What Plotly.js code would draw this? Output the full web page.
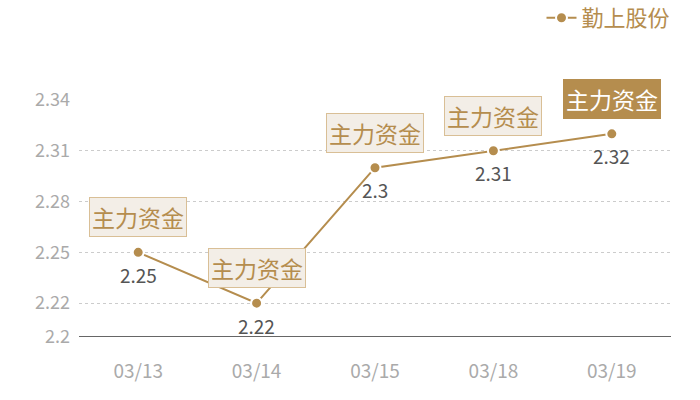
<!DOCTYPE html>
<html><head><meta charset="utf-8">
<script src="https://cdn.plot.ly/plotly-3.0.1.min.js"></script>
<style>body{margin:0;background:#fff}#c{width:700px;height:400px}</style>
</head><body><div id="c"></div>
<script>
const dates = ['03/13','03/14','03/15','03/18','03/19'];
const prices = [2.25, 2.22, 2.3, 2.31, 2.32];
const seriesName = '勤上股份';
const tagText = '主力资金';
const yTicks = [2.2, 2.22, 2.25, 2.28, 2.31, 2.34];
const yTickLabels = ['2.2', '2.22', '2.25', '2.28', '2.31', '2.34'];

const gold = '#b58d4e';
const font = '"Noto Sans CJK SC", "Noto Sans", sans-serif';

const tags = dates.map((d, i) => {
  const last = i === dates.length - 1;
  return {
    x: d, y: prices[i], xref: 'x', yref: 'y',
    text: tagText, showarrow: false, yshift: 35,
    font: {family: font, size: 23, color: last ? '#ffffff' : gold},
    bgcolor: last ? gold : '#f3eee7',
    bordercolor: last ? gold : '#d9bf96', borderwidth: 1, borderpad: 2
  };
});
const valueLabels = dates.map((d, i) => ({
  x: d, y: prices[i], xref: 'x', yref: 'y',
  text: String(prices[i]), showarrow: false, yshift: -22,
  font: {family: font, size: 19, color: '#555555'}
}));

Plotly.newPlot('c', [{
  x: dates, y: prices, name: seriesName, type: 'scatter',
  mode: 'lines+markers',
  line: {color: gold, width: 2},
  marker: {color: gold, size: 11, line: {color: '#ffffff', width: 2}},
  showlegend: true
}], {
  width: 700, height: 400,
  margin: {l: 79, r: 29, t: 100, b: 63},
  paper_bgcolor: '#ffffff', plot_bgcolor: '#ffffff',
  font: {family: font},
  showlegend: true,
  legend: {xref: 'container', yref: 'container', x: 0.965, xanchor: 'right', y: 0.955, yanchor: 'middle',
           orientation: 'h', font: {family: font, size: 22, color: gold}, bgcolor: 'rgba(0,0,0,0)'},
  xaxis: {type: 'category', range: [-0.5, 4.5], showgrid: false, zeroline: false,
          showline: false, ticks: '', ticklen: 0, ticklabelstandoff: 21,
          tickfont: {family: font, size: 19, color: '#aaaaaa'}},
  yaxis: {range: [2.2, 2.34], tickmode: 'array', tickvals: yTicks, ticktext: yTickLabels,
          showgrid: true, gridcolor: '#cccccc', griddash: 'dot', gridwidth: 1,
          zeroline: false, showline: false, ticks: '', ticklen: 0, ticklabelstandoff: 8,
          tickfont: {family: font, size: 18, color: '#aaaaaa'}},
  shapes: [{type: 'line', xref: 'paper', yref: 'y', x0: 0, x1: 1, y0: 2.2, y1: 2.2,
            line: {color: '#333333', width: 1.5}}],
  annotations: tags.concat(valueLabels)
}, {displayModeBar: false, staticPlot: true});
</script></body></html>
